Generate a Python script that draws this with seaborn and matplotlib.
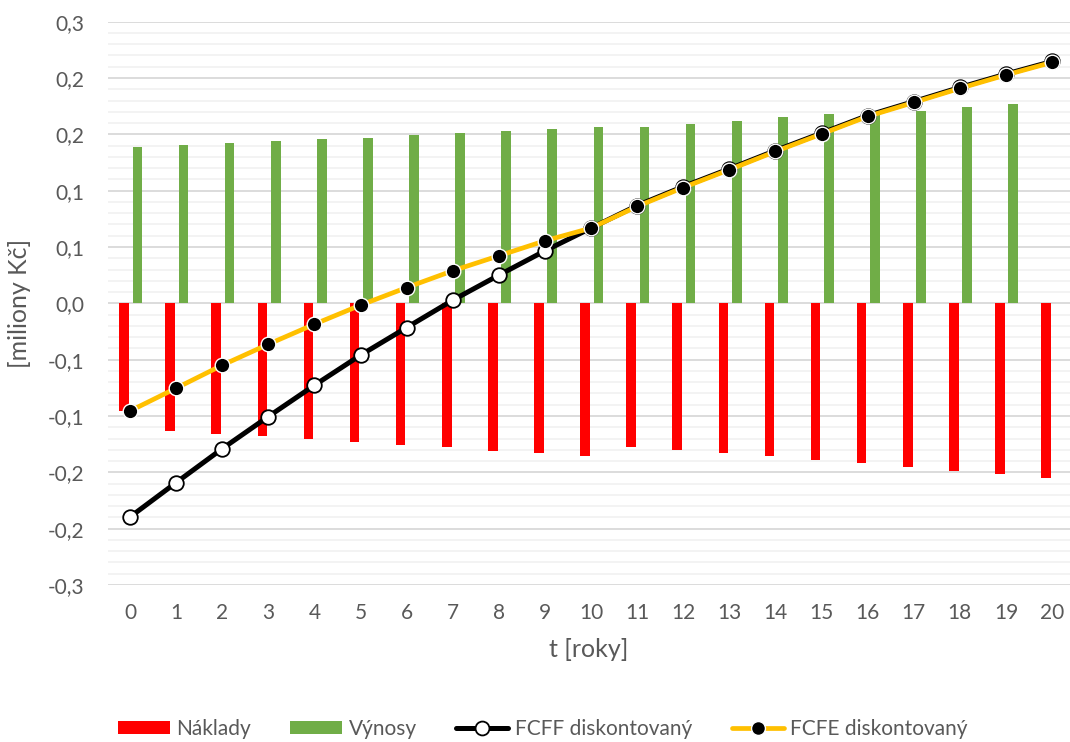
import numpy as np
import pandas as pd
import matplotlib
matplotlib.use("Agg")
import matplotlib.pyplot as plt
from matplotlib.lines import Line2D
from matplotlib.patches import Patch
from matplotlib.ticker import MultipleLocator, FuncFormatter
import seaborn as sns

# ---- data (milions CZK) ----
years = list(range(21))
naklady = [-0.0955, -0.1132, -0.1156, -0.1180, -0.1200, -0.1227, -0.1254, -0.1277,
           -0.1307, -0.1330, -0.1357, -0.1272, -0.1298, -0.1328, -0.1357, -0.1387,
           -0.1420, -0.1450, -0.1485, -0.1514, -0.1547]
vynosy = [0.1387, 0.1405, 0.1423, 0.1437, 0.1455, 0.1470, 0.1490, 0.1508,
          0.1526, 0.1544, 0.1562, 0.1562, 0.1591, 0.1621, 0.1650, 0.1680,
          0.1695, 0.1710, 0.1740, 0.1772, 0.0]
fcff = [-0.1896, -0.1591, -0.1290, -0.1005, -0.0727, -0.0460, -0.0215, 0.0028,
        0.0250, 0.0466, 0.0668, 0.0868, 0.1036, 0.1194, 0.1356, 0.1511,
        0.1667, 0.1791, 0.1916, 0.2035, 0.2147]
fcfe = [-0.0955, -0.0753, -0.0549, -0.0363, -0.0185, -0.0016, 0.0140, 0.0289,
        0.0422, 0.0555, 0.0668, 0.0860, 0.1028, 0.1186, 0.1348, 0.1503,
        0.1659, 0.1783, 0.1908, 0.2027, 0.2139]

labels = ["Náklady", "Výnosy", "FCFF diskontovaný", "FCFE diskontovaný"]
c_red, c_green, c_black, c_yellow = "#FF0000", "#70AD47", "#000000", "#FFC000"
text_color = "#595959"

sns.set_theme(style="white")
plt.rcParams["font.family"] = ["Lato", "DejaVu Sans"]

fig = plt.figure(figsize=(10.7, 7.42), dpi=100)
ax = fig.add_axes([0.101, 0.2116, 0.899, 0.7592])

t = np.array(years, dtype=float)
df_n = pd.DataFrame({"t": t - 0.13, "v": naklady})
df_v = pd.DataFrame({"t": t + 0.16, "v": vynosy})
df_v = df_v[df_v["v"] != 0]

sns.barplot(data=df_n, x="t", y="v", native_scale=True, width=0.21,
            color=c_red, saturation=1, ax=ax, zorder=3, linewidth=0)
sns.barplot(data=df_v, x="t", y="v", native_scale=True, width=0.21,
            color=c_green, saturation=1, ax=ax, zorder=3, linewidth=0)

sns.lineplot(x=t, y=fcff, ax=ax, color=c_black, linewidth=3.6, marker="o",
             markersize=10.5, markerfacecolor="white", markeredgecolor=c_black,
             markeredgewidth=1.3, zorder=4)
sns.lineplot(x=t, y=fcfe, ax=ax, color=c_yellow, linewidth=3.4, marker="o",
             markersize=10.5, markerfacecolor=c_black, markeredgecolor="white",
             markeredgewidth=1.0, zorder=5)

ax.set_xlim(-0.477, 20.39)
ax.set_ylim(-0.25, 0.25)
ax.set_xticks(years)
ax.set_xticklabels([str(y) for y in years])
ax.yaxis.set_major_locator(MultipleLocator(0.05))
ax.yaxis.set_minor_locator(MultipleLocator(0.01))


def one_decimal(v, pos):
    # round half away from zero to one decimal, with a decimal comma
    if abs(v) < 1e-9:
        return "0,0"
    r = np.sign(v) * np.floor(abs(v) * 10 + 0.5 + 1e-9) / 10
    return ("%.1f" % r).replace(".", ",")


ax.yaxis.set_major_formatter(FuncFormatter(one_decimal))

ax.grid(axis="y", which="major", color="#D9D9D9", linewidth=1.3, zorder=0)
ax.grid(axis="y", which="minor", color="#F2F2F2", linewidth=1.3, zorder=0)
ax.grid(axis="x", visible=False)
for s in ax.spines.values():
    s.set_visible(False)
ax.tick_params(axis="both", length=0, labelsize=15, labelcolor=text_color)
ax.tick_params(axis="y", pad=17)
ax.tick_params(axis="x", pad=13)
ax.set_axisbelow(True)

ax.set_xlabel("t [roky]", fontsize=18, color=text_color, labelpad=11)
ax.set_ylabel("[miliony Kč]", fontsize=18, color=text_color, labelpad=12)

handles = [
    Patch(facecolor=c_red, edgecolor="none"),
    Patch(facecolor=c_green, edgecolor="none"),
    Line2D([], [], color=c_black, linewidth=3.6, marker="o", markersize=10,
           markerfacecolor="white", markeredgecolor=c_black, markeredgewidth=1.3),
    Line2D([], [], color=c_yellow, linewidth=3.4, marker="o", markersize=10,
           markerfacecolor=c_black, markeredgecolor="white", markeredgewidth=1.0),
]
fig.legend(handles, labels, loc="center", bbox_to_anchor=(0.507, 0.018), ncol=4,
           frameon=False, fontsize=15, labelcolor=text_color, handlelength=2.5,
           handleheight=0.58, handletextpad=0.3, columnspacing=1.9)

fig.savefig("out.png", dpi=100)
